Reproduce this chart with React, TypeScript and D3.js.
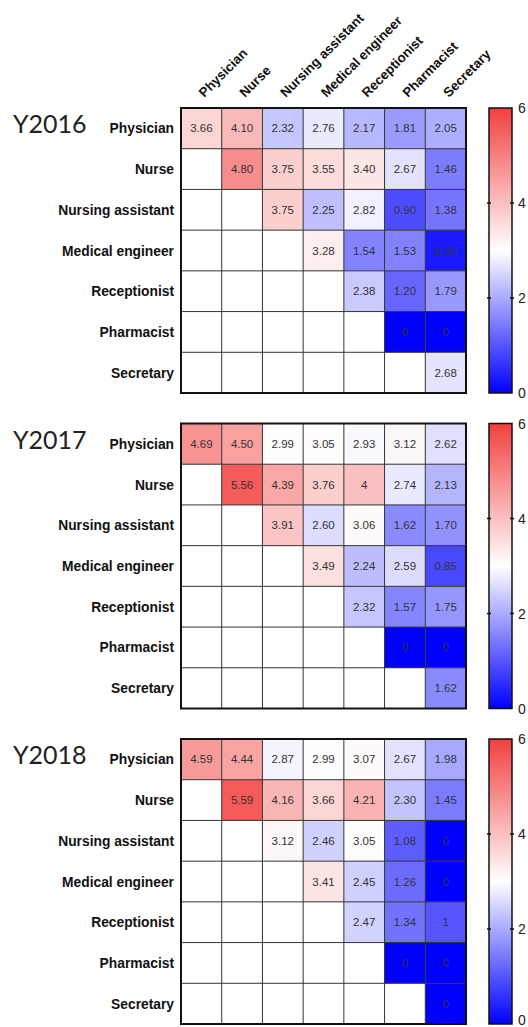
import React from "react";
import * as d3 from "d3";

// Roles, in row and column order
const roles = [
  "Physician",
  "Nurse",
  "Nursing assistant",
  "Medical engineer",
  "Receptionist",
  "Pharmacist",
  "Secretary",
];

const years = ["Y2016", "Y2017", "Y2018"];

// Upper-triangular score matrices (null = empty cell)
const y2016: (number | null)[][] = [
  [3.66, 4.1, 2.32, 2.76, 2.17, 1.81, 2.05],
  [null, 4.8, 3.75, 3.55, 3.4, 2.67, 1.46],
  [null, null, 3.75, 2.25, 2.82, 0.9, 1.38],
  [null, null, null, 3.28, 1.54, 1.53, 0.3],
  [null, null, null, null, 2.38, 1.2, 1.79],
  [null, null, null, null, null, 0, 0],
  [null, null, null, null, null, null, 2.68],
];

const y2017: (number | null)[][] = [
  [4.69, 4.5, 2.99, 3.05, 2.93, 3.12, 2.62],
  [null, 5.56, 4.39, 3.76, 4, 2.74, 2.13],
  [null, null, 3.91, 2.6, 3.06, 1.62, 1.7],
  [null, null, null, 3.49, 2.24, 2.59, 0.85],
  [null, null, null, null, 2.32, 1.57, 1.75],
  [null, null, null, null, null, 0, 0],
  [null, null, null, null, null, null, 1.62],
];

const y2018: (number | null)[][] = [
  [4.59, 4.44, 2.87, 2.99, 3.07, 2.67, 1.98],
  [null, 5.59, 4.16, 3.66, 4.21, 2.3, 1.45],
  [null, null, 3.12, 2.46, 3.05, 1.08, 0],
  [null, null, null, 3.41, 2.45, 1.26, 0],
  [null, null, null, null, 2.47, 1.34, 1],
  [null, null, null, null, null, 0, 0],
  [null, null, null, null, null, null, 0],
];

const matrices = [y2016, y2017, y2018];
const colorTicks = [0, 2, 4, 6];

const W = 528;
const H = 1027;
const gridLeft = 181;
const gridSize = 285;
const firstTop = 108;
const panelStep = 315.5;
const barLeft = 489;
const barWidth = 23;

const x = d3.scaleBand<string>().domain(roles).range([gridLeft, gridLeft + gridSize]);

const color = d3
  .scaleLinear<string>()
  .domain([0, 3, 6])
  .range(["#0000ff", "#ffffff", "#f24040"])
  .interpolate(d3.interpolateRgb);

const fmt = (v: number) => (Number.isInteger(v) ? String(v) : v.toFixed(2));

const labelFont = "'Liberation Sans', Arial, Helvetica, sans-serif";

function Panel({ index }: { index: number }) {
  const top = firstTop + index * panelStep;
  const y = d3.scaleBand<string>().domain(roles).range([top, top + gridSize]);
  const bar = d3.scaleLinear().domain([0, 6]).range([top + gridSize, top]);
  const data = matrices[index];
  const bw = x.bandwidth();
  const bh = y.bandwidth();
  const gradId = `grad-${index}`;
  const stops = d3.range(0, 6.01, 0.5);

  return (
    <g>
      <text
        x={13}
        y={(y(roles[0]) as number) + bh / 2 + 5}
        fontFamily="Lato, 'Open Sans', sans-serif"
        fontSize={25}
        fill="#222"
      >
        {years[index]}
      </text>

      {roles.map((r) => (
        <text
          key={r}
          x={174}
          y={(y(r) as number) + bh / 2 + 5}
          textAnchor="end"
          fontFamily={labelFont}
          fontWeight="bold"
          fontSize={13.8}
          fill="#111"
        >
          {r}
        </text>
      ))}

      {data.map((row, i) =>
        row.map((v, j) =>
          v === null ? null : (
            <g key={`${i}-${j}`}>
              <rect
                x={x(roles[j]) as number}
                y={y(roles[i]) as number}
                width={bw}
                height={bh}
                fill={color(v)}
              />
              <text
                x={(x(roles[j]) as number) + bw / 2}
                y={(y(roles[i]) as number) + bh / 2 + 4}
                textAnchor="middle"
                fontFamily={labelFont}
                fontSize={11.5}
                fill="#333"
              >
                {fmt(v)}
              </text>
            </g>
          )
        )
      )}

      {/* inner grid */}
      {roles.slice(1).map((r) => (
        <g key={`g-${r}`}>
          <line
            x1={x(r) as number}
            x2={x(r) as number}
            y1={top}
            y2={top + gridSize}
            stroke="#333"
            strokeWidth={1}
          />
          <line
            x1={gridLeft}
            x2={gridLeft + gridSize}
            y1={y(r) as number}
            y2={y(r) as number}
            stroke="#333"
            strokeWidth={1}
          />
        </g>
      ))}
      <rect
        x={gridLeft}
        y={top}
        width={gridSize}
        height={gridSize}
        fill="none"
        stroke="#111"
        strokeWidth={2}
      />

      {/* colour bar */}
      <defs>
        <linearGradient id={gradId} x1="0" x2="0" y1="1" y2="0">
          {stops.map((s) => (
            <stop key={s} offset={`${(s / 6) * 100}%`} stopColor={color(s)} />
          ))}
        </linearGradient>
      </defs>
      <rect
        x={barLeft}
        y={top}
        width={barWidth}
        height={gridSize}
        fill={`url(#${gradId})`}
        stroke="#111"
        strokeWidth={1.5}
      />
      {colorTicks.map((t) => (
        <g key={t}>
          {t > 0 && t < 6 && (
            <>
              <line x1={barLeft - 2} x2={barLeft + 2} y1={bar(t)} y2={bar(t)} stroke="#111" strokeWidth={1.5} />
              <line
                x1={barLeft + barWidth - 2}
                x2={barLeft + barWidth + 2}
                y1={bar(t)}
                y2={bar(t)}
                stroke="#111"
                strokeWidth={1.5}
              />
            </>
          )}
          <text
            x={518}
            y={Math.min(bar(t) + 5, H - 2)}
            fontFamily={labelFont}
            fontSize={14}
            fill="#222"
          >
            {t}
          </text>
        </g>
      ))}
    </g>
  );
}

export default function App() {
  return (
    <svg
      width={W}
      height={H}
      style={{ position: "absolute", left: 0, top: 0, background: "#fff" }}
    >
      <rect width={W} height={H} fill="#fff" />
      {roles.map((r) => (
        <text
          key={r}
          transform={`translate(${(x(r) as number) + x.bandwidth() / 2 + 3},98) rotate(-45)`}
          fontFamily={labelFont}
          fontWeight="bold"
          fontSize={13.3}
          fill="#111"
        >
          {r}
        </text>
      ))}
      {years.map((yr, i) => (
        <Panel key={yr} index={i} />
      ))}
    </svg>
  );
}
